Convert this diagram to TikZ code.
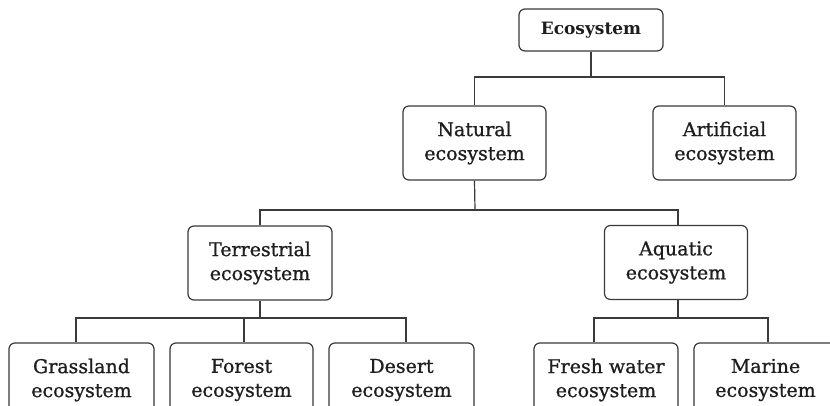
\documentclass[tikz,border=0pt]{standalone}
\usepackage{fontspec}
\setmainfont{DejaVu Serif}
\newfontfamily\boxfont{DejaVu Serif}[FakeBold=0.9]
\definecolor{ink}{HTML}{1E1E1E}
\definecolor{edge}{HTML}{3A3A3A}
\begin{document}
\begin{tikzpicture}[x=1pt,y=-1pt,
  box/.style={draw=edge, line width=1.2pt, rounded corners=6pt, align=center,
    text=ink, inner sep=0pt, minimum width=143pt, minimum height=74pt,
    font=\boxfont\fontsize{19}{24}\selectfont},
  link/.style={draw=edge, line width=1.2pt}]
\useasboundingbox (0,0) rectangle (830,406);
\clip (0,0) rectangle (830,406);
\fill[white] (0,0) rectangle (830,406);
% nodes
\node[box, minimum width=144pt, minimum height=42pt, font=\rmfamily\fontsize{17}{20}\selectfont\bfseries] (eco) at (591,30) {Ecosystem};
\node[box] (nat) at (474.5,143) {Natural\\ecosystem};
\node[box] (art) at (724.5,143) {Artificial\\ecosystem};
\node[box, minimum width=144pt] (ter) at (260,263) {Terrestrial\\ecosystem};
\node[box] (aqu) at (676,262.5) {Aquatic\\ecosystem};
\node[box, minimum width=145pt] (gra) at (81.5,380) {Grassland\\ecosystem};
\node[box] (for) at (241.5,380) {Forest\\ecosystem};
\node[box, minimum width=145pt] (des) at (401.5,380) {Desert\\ecosystem};
\node[box, minimum width=144pt] (fre) at (606,380) {Fresh water\\ecosystem};
\node[box] (mar) at (765.5,380) {Marine\\ecosystem};
% junctions
\coordinate (j1) at (591,77);
\coordinate (j2) at (475,210);
\coordinate (j3) at (260,318);
\coordinate (j4) at (678,318);
% connectors
\draw[link] (eco.south) -- (j1);
\draw[link] (nat.north) |- (j1) -| (art.north);
\draw[link] (nat.south) -- (j2);
\draw[link] (ter.north) |- (j2) -| ([xshift=2pt]aqu.north);
\draw[link] (ter.south) -- (j3);
\draw[link] ([xshift=-5.5pt]gra.north) |- (j3) -| ([xshift=4.5pt]des.north);
\draw[link] ([xshift=2.5pt]for.north) -- ([xshift=2.5pt]for.north |- j3);
\draw[link] ([xshift=2pt]aqu.south) -- (j4);
\draw[link] ([xshift=-12pt]fre.north) |- (j4) -| ([xshift=2.5pt]mar.north);
\end{tikzpicture}
\end{document}
